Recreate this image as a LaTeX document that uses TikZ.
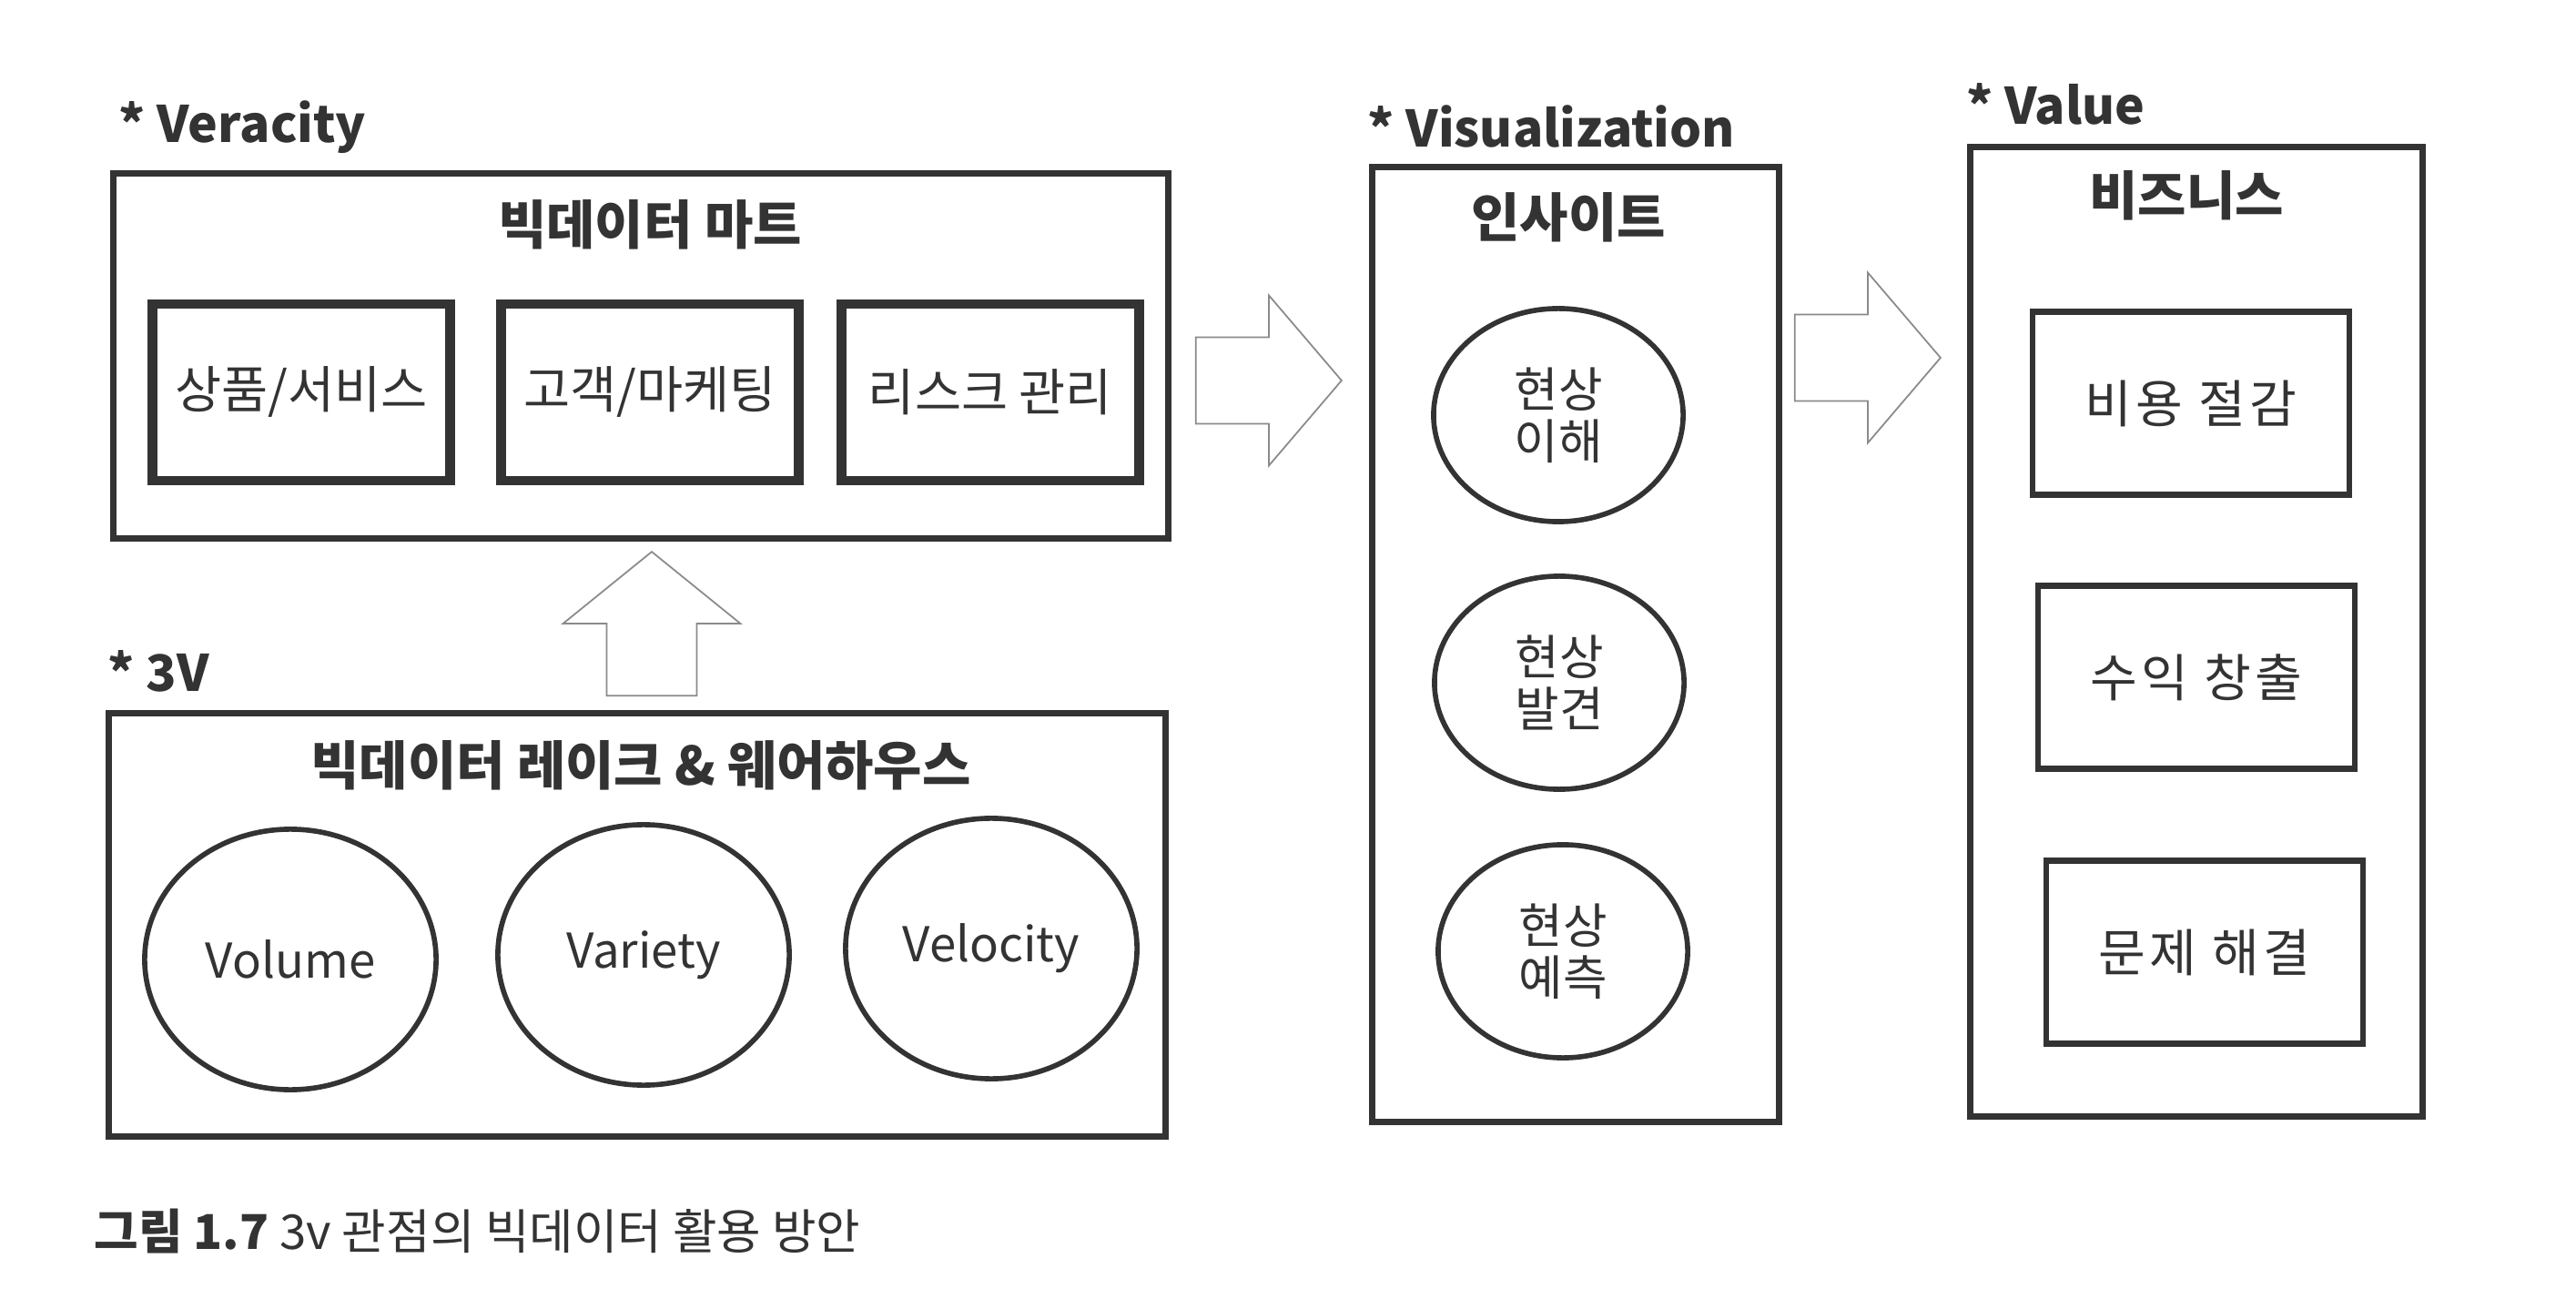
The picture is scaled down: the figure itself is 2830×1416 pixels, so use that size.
\documentclass[tikz,border=0pt]{standalone}
\usepackage{fontspec}
\setmainfont{Noto Sans CJK KR}
\newfontfamily\spacedfont[LetterSpace=8]{Noto Sans CJK KR}
\usetikzlibrary{positioning,shapes.geometric,shapes.arrows}

\definecolor{ink}{HTML}{333333}
\definecolor{arrowgray}{HTML}{8A8A8A}

\tikzset{
  outerbox/.style={draw=ink, line width=2pt, rectangle, inner sep=0pt},
  martbox/.style={draw=ink, line width=3pt, minimum width=3.27cm, minimum height=1.94cm,
    font=\fontsize{15.8}{18}\selectfont},
  valuebox/.style={draw=ink, line width=1.8pt, minimum width=3.48cm, minimum height=2.01cm,
    font=\spacedfont\fontsize{16}{18}\selectfont},
  vcircle/.style={ellipse, draw=ink, line width=1.6pt, minimum width=3.2cm, minimum height=2.86cm,
    inner sep=0pt, font=\fontsize{15}{18}\selectfont},
  insight/.style={ellipse, draw=ink, line width=1.6pt, minimum width=2.74cm, minimum height=2.34cm,
    inner sep=0pt, align=center, font=\fontsize{15}{16.2}\selectfont},
  boxtitle/.style={font=\bfseries\fontsize{16.5}{19}\selectfont},
  header/.style={anchor=base west, inner sep=0pt, font=\bfseries\fontsize{15.7}{19}\selectfont},
  bigarrow/.style={single arrow, draw=arrowgray, line width=0.5pt, fill=white, anchor=tip,
    inner xsep=0pt, inner ysep=0.465cm, single arrow head extend=0.46cm,
    single arrow tip angle=99, minimum height=1.6cm},
  uparrow/.style={bigarrow, shape border rotate=90, inner xsep=0.485cm, inner ysep=0pt,
    single arrow head extend=0.48cm, single arrow tip angle=102, minimum height=1.58cm}
}

\begin{document}
\begin{tikzpicture}[x=0.01cm, y=-0.01cm, text=ink]
    \useasboundingbox (0,0) rectangle (2830,1416);
    \fill[white] (0,0) rectangle (2830,1416);

    % Veracity: big data mart
    \node[header] (hver) at (130,157) {*\ Veracity};
    \node[outerbox, minimum width=11.59cm, minimum height=4.01cm] (mart) at (704,391) {};
    \node[boxtitle] (marttitle) at (714,247) {빅데이터 마트};
    \foreach \i/\x/\txt in {1/331/상품\slash 서비스, 2/714/고객\slash 마케팅, 3/1088/리스크 관리} {
      \node[martbox] (mart\i) at (\x,431) {\txt};
    }

    % 3V: lake & warehouse
    \node[header] (h3v) at (118,760) {*\ 3V};
    \node[outerbox, minimum width=11.61cm, minimum height=4.64cm] (lake) at (700,1016) {};
    \node[boxtitle] (laketitle) at (704,841) {빅데이터 레이크 \& 웨어하우스};
    \foreach \i/\x/\y/\txt in {1/319/1054/Volume, 2/707/1049/Variety, 3/1089/1042/Velocity} {
      \node[vcircle] (v\i) at (\x,\y) {\txt};
    }

    % Visualization: insight
    \node[header] (hvis) at (1502,162) {*\ Visualization};
    \node[outerbox, minimum width=4.47cm, minimum height=10.48cm] (vis) at (1731,708) {};
    \node[boxtitle] (vistitle) at (1723,239) {인사이트};
    \foreach \i/\x/\y/\txt in {1/1712/456/이해, 2/1713/750/발견, 3/1717/1045/예측} {
      \node[insight] (ins\i) at (\x,\y) {현상\\\txt};
    }

    % Value: business
    \node[header] (hval) at (2160,137) {*\ Value};
    \node[outerbox, minimum width=4.97cm, minimum height=10.65cm] (val) at (2413,694) {};
    \node[boxtitle] (valtitle) at (2402,215) {비즈니스};
    \foreach \i/\x/\y/\txt in {1/2407/443/비용 절감, 2/2413/744/수익 창출, 3/2422/1046/문제 해결} {
      \node[valuebox] (val\i) at (\x,\y) {\txt};
    }

    % block arrows
    \node[uparrow] (tomart) at (716,605) {};
    \node[bigarrow] (toinsight) at (1475,418) {};
    \node[bigarrow] (tovalue) at (2133,393) {};

    % caption
    \node[anchor=west, inner sep=0pt, font=\fontsize{15}{18}\selectfont] (caption) at (103,1353)
      {\textbf{그림 1.7} 3v 관점의 빅데이터 활용 방안};
\end{tikzpicture}
\end{document}
